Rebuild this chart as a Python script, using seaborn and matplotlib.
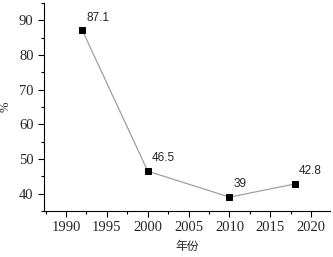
import matplotlib
matplotlib.use("Agg")
import matplotlib.pyplot as plt
import seaborn as sns
import pandas as pd
from matplotlib.ticker import MultipleLocator

# 数据
years = [1992, 2000, 2010, 2018]
values = [87.1, 46.5, 39, 42.8]
labels = ["87.1", "46.5", "39", "42.8"]

df = pd.DataFrame({"年份": years, "%": values})

sns.set_style("ticks")
plt.rcParams["font.family"] = ["Liberation Serif", "Noto Sans CJK SC"]

fig = plt.figure(figsize=(3.33, 2.57), dpi=100)
ax = fig.add_axes([0.132, 0.179, 0.859, 0.809])

sns.lineplot(data=df, x="年份", y="%", ax=ax, color="#a0a0a0", linewidth=0.9,
             marker="s", markersize=4.5, markerfacecolor="black",
             markeredgecolor="black")

for x, y, t in zip(years, values, labels):
    ax.annotate(t, (x, y), xytext=(3, 5), textcoords="offset points",
                fontsize=8.5, family=["Liberation Sans"], ha="left", va="bottom")

ax.set_xlim(1987.3, 2022.3)
ax.set_ylim(35, 95)
ax.set_xticks([1990, 1995, 2000, 2005, 2010, 2015, 2020])
ax.set_yticks([40, 50, 60, 70, 80, 90])
ax.xaxis.set_minor_locator(MultipleLocator(2.5))
ax.yaxis.set_minor_locator(MultipleLocator(5))
ax.tick_params(which="major", direction="out", length=4, width=0.8,
               labelsize=10.5, color="black")
ax.tick_params(which="minor", direction="out", length=2.5, width=0.8,
               color="black")
sns.despine(ax=ax)
for s in ["left", "bottom"]:
    ax.spines[s].set_linewidth(0.8)
    ax.spines[s].set_color("black")

ax.set_xlabel("年份", fontsize=8.5, family=["Noto Sans CJK SC"], labelpad=4)
ax.set_ylabel("%", fontsize=9, labelpad=5)

fig.savefig("out.png", dpi=100)
